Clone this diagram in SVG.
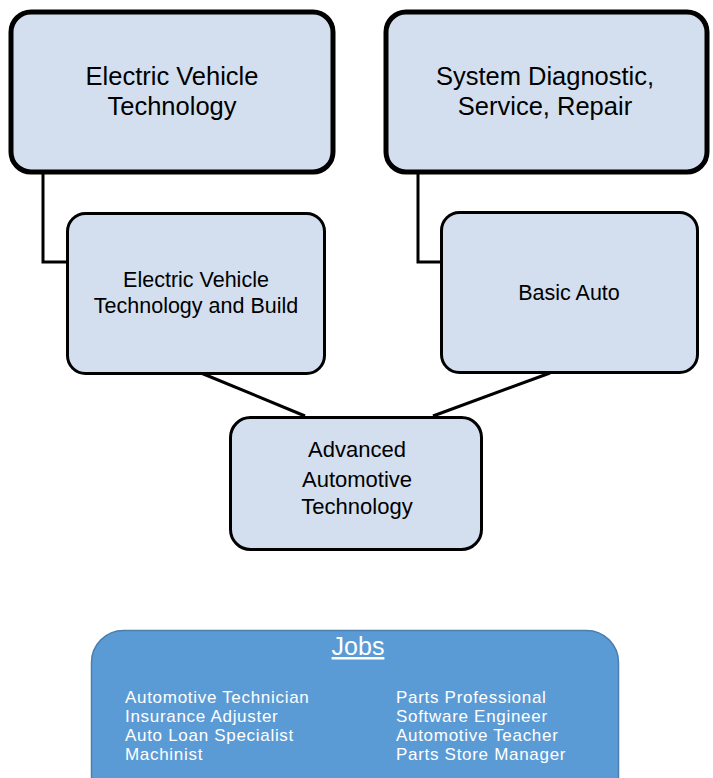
<svg xmlns="http://www.w3.org/2000/svg" width="713" height="778" viewBox="0 0 713 778">
<style>
.box{fill:#d3dfef;stroke:#000;}
.big{stroke-width:5;}
.small{stroke-width:3;}
.t{font-family:"Liberation Sans",Arial,sans-serif;fill:#000;text-anchor:middle;}
.tb{font-size:25.5px;}
.ts{font-size:21.5px;}
.ta{font-size:22px;}
.conn{fill:none;stroke:#000;stroke-width:3;}
.jobs{fill:#5b9bd5;stroke:#4a7fb0;stroke-width:1.5;}
.jt{font-family:"Liberation Sans",Arial,sans-serif;fill:#fff;font-size:17px;letter-spacing:0.7px;}
</style>
<rect width="713" height="778" fill="#fff"/>
<g id="connectors">
<path class="conn" d="M43,172 V262 H68"/>
<path class="conn" d="M418,172 V262 H442"/>
<path class="conn" d="M201,373 L305,416"/>
<path class="conn" d="M550,373 L433,416"/>
</g>
<g id="ev-tech">
<rect class="box big" x="11" y="12" width="322" height="160" rx="20"/>
<text class="t tb" x="172" y="85">Electric Vehicle</text>
<text class="t tb" x="172" y="115">Technology</text>
</g>
<g id="sys-diag">
<rect class="box big" x="386" y="12" width="321" height="160" rx="20"/>
<text class="t tb" x="545" y="85">System Diagnostic,</text>
<text class="t tb" x="545" y="115">Service, Repair</text>
</g>
<g id="ev-build">
<rect class="box small" x="67.5" y="213.5" width="257" height="160" rx="18"/>
<text class="t ts" x="196" y="287">Electric Vehicle</text>
<text class="t ts" x="196" y="313">Technology and Build</text>
</g>
<g id="basic-auto">
<rect class="box small" x="441.5" y="212.5" width="256" height="160" rx="18"/>
<text class="t ts" x="569" y="300">Basic Auto</text>
</g>
<g id="advanced">
<rect class="box small" x="230.5" y="417.5" width="251" height="132" rx="20"/>
<text class="t ta" x="357" y="457">Advanced</text>
<text class="t ta" x="357" y="487">Automotive</text>
<text class="t ta" x="357" y="514">Technology</text>
</g>
<g id="jobs">
<rect class="jobs" x="91.5" y="630.5" width="527" height="180" rx="32"/>
<text x="358" y="655" font-family="'Liberation Sans',Arial,sans-serif" font-size="25" fill="#fff" text-anchor="middle" text-decoration="underline">Jobs</text>
<text class="jt" x="125" y="703">Automotive Technician</text>
<text class="jt" x="125" y="722">Insurance Adjuster</text>
<text class="jt" x="125" y="741">Auto Loan Specialist</text>
<text class="jt" x="125" y="760">Machinist</text>
<text class="jt" x="396" y="703">Parts Professional</text>
<text class="jt" x="396" y="722">Software Engineer</text>
<text class="jt" x="396" y="741">Automotive Teacher</text>
<text class="jt" x="396" y="760">Parts Store Manager</text>
</g>
</svg>
